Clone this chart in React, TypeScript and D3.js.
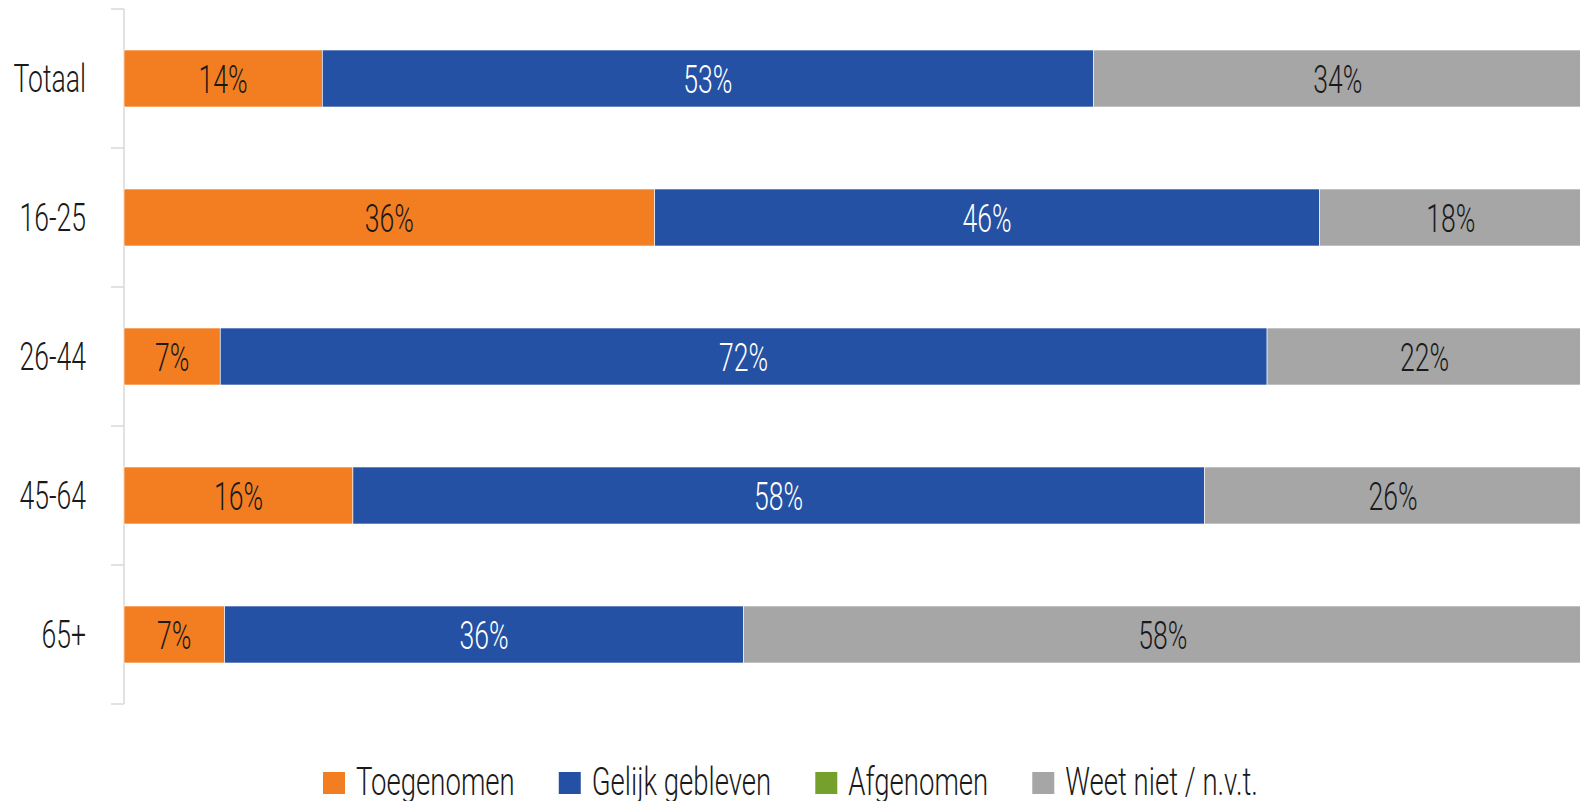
import React from "react";
import * as d3 from "d3";

const categories = ["Totaal", "16-25", "26-44", "45-64", "65+"];
const seriesNames = ["Toegenomen", "Gelijk gebleven", "Afgenomen", "Weet niet / n.v.t."];
const toegenomen = [13.6, 36.4, 6.6, 15.7, 6.9];
const gelijk = [52.9, 45.6, 71.8, 58.4, 35.6];
const afgenomen = [0, 0, 0, 0, 0];
const weetNiet = [33.5, 18.0, 21.6, 25.9, 57.5];

const colors = ["#F37E22", "#2451A4", "#76A02C", "#A6A6A6"];
const labelColors = ["#1a1a1a", "#ffffff", "#1a1a1a", "#1a1a1a"];

const W = 1580;
const H = 801;
const FONT = "Roboto, 'Liberation Sans Narrow', sans-serif";
const FS = 38;
const SX = 0.7;
const LSX = 0.725;

export default function App() {
  const seriesValues = [toegenomen, gelijk, afgenomen, weetNiet];
  const rows = categories.map((c, i) => {
    const r: any = { cat: c };
    seriesNames.forEach((s, j) => (r[s] = seriesValues[j][i]));
    return r;
  });
  const stacked = d3.stack().keys(seriesNames)(rows as any);

  const x = d3.scaleLinear().domain([0, 100]).range([124, 1582]);
  const y = d3
    .scaleBand()
    .domain(categories)
    .range([9, 704])
    .paddingInner(0.59)
    .paddingOuter(0.295);
  const step = y.step();
  const tickYs = d3.range(categories.length + 1).map((i) => 9 + i * step);

  // legend layout
  const legendY = 783;
  const sq = 22;
  const legendStarts: number[] = [];
  let lx = 323;
  const measure = (s: string) => {
    const cv = document.createElement("canvas");
    const ctx = cv.getContext("2d")!;
    ctx.font = `300 ${FS}px Roboto`;
    return ctx.measureText(s).width * LSX;
  };
  seriesNames.forEach((s) => {
    legendStarts.push(lx);
    lx += sq + 10 + measure(s) + 45;
  });

  return (
    <svg
      width={W}
      height={H}
      style={{ position: "absolute", left: 0, top: 0, background: "#fff" }}
      fontFamily={FONT}
    >
      {/* axis */}
      <line x1={124} x2={124} y1={9} y2={704} stroke="#d9d9d9" strokeWidth={1.5} />
      {tickYs.map((ty, i) => (
        <line key={i} x1={111} x2={124} y1={ty} y2={ty} stroke="#d9d9d9" strokeWidth={1.5} />
      ))}
      {categories.map((c) => (
        <g key={c} transform={`translate(86,${(y(c) as number) + y.bandwidth() / 2 + 13}) scale(${SX},1)`}>
          <text textAnchor="end" fontSize={FS} fontWeight={300} fill="#1a1a1a">
            {c}
          </text>
        </g>
      ))}
      {/* bars */}
      {stacked.map((layer, j) => (
        <g key={layer.key} fill={colors[j]}>
          {layer.map((d: any, i: number) => {
            const w = x(d[1]) - x(d[0]);
            if (w <= 0) return null;
            return (
              <rect
                key={i}
                x={x(d[0])}
                y={y(categories[i])}
                width={w}
                height={y.bandwidth()}
                stroke="#ffffff"
                strokeWidth={0.6}
              />
            );
          })}
        </g>
      ))}
      {/* value labels */}
      {stacked.map((layer, j) =>
        layer.map((d: any, i: number) => {
          const v = d[1] - d[0];
          if (v <= 0) return null;
          const cx = (x(d[0]) + x(d[1])) / 2;
          const cy = (y(categories[i]) as number) + y.bandwidth() / 2 + 14;
          return (
            <g key={`${j}-${i}`} transform={`translate(${cx},${cy}) scale(${SX},1)`}>
              <text textAnchor="middle" fontSize={FS} fontWeight={300} fill={labelColors[j]}>
                {`${Math.round(v)}%`}
              </text>
            </g>
          );
        })
      )}
      {/* legend */}
      {seriesNames.map((s, j) => (
        <g key={s} transform={`translate(${legendStarts[j]},${legendY})`}>
          <rect x={0} y={-11} width={sq} height={sq} fill={colors[j]} />
          <g transform={`translate(${sq + 11},12) scale(${LSX},1)`}>
            <text fontSize={FS} fontWeight={300} fill="#1a1a1a">
              {s}
            </text>
          </g>
        </g>
      ))}
    </svg>
  );
}
